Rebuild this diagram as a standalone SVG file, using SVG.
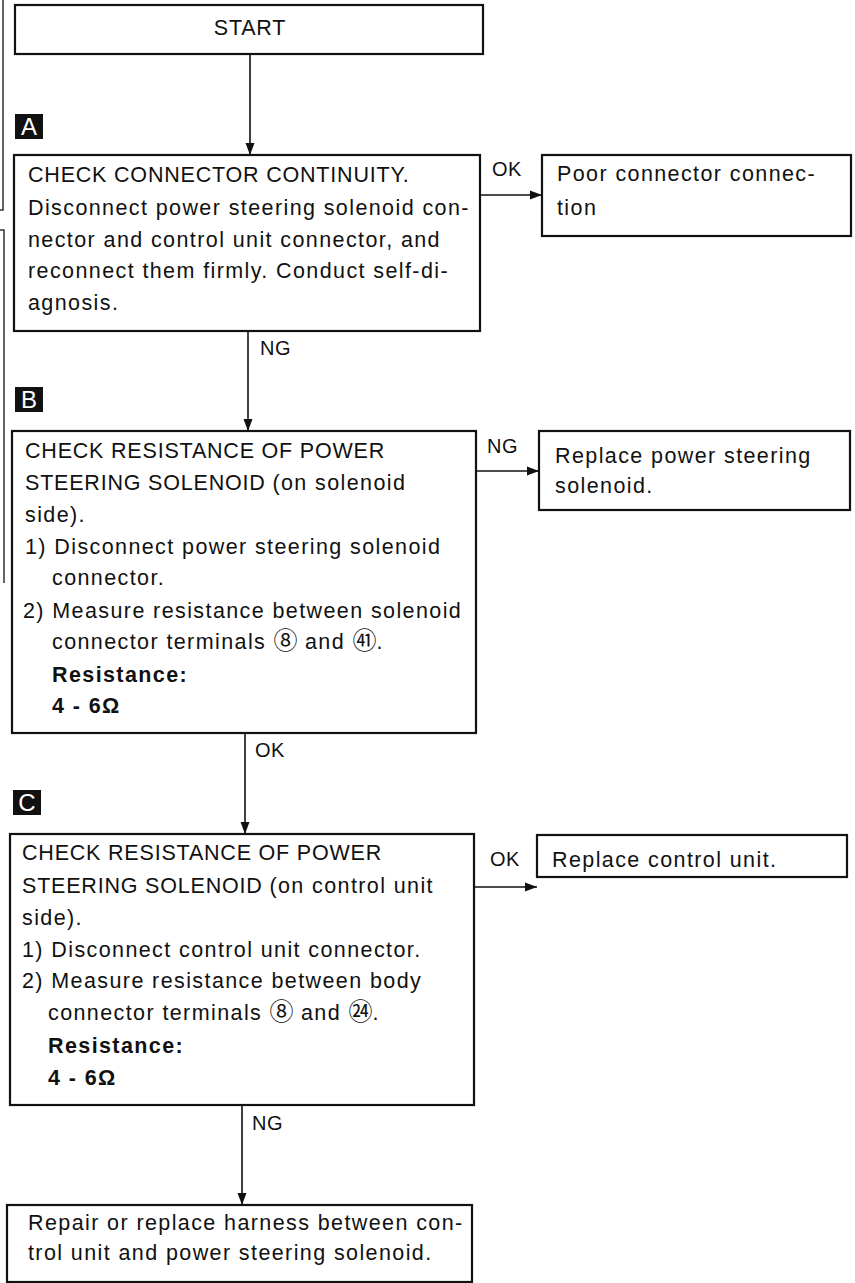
<svg xmlns="http://www.w3.org/2000/svg" width="855" height="1283" viewBox="0 0 855 1283">
<style>
text{font-family:"Liberation Sans",Arial,"Noto Sans CJK JP",sans-serif;font-size:21.5px;fill:#111;letter-spacing:1.4px}
.caps{letter-spacing:0.8px}
.b{font-weight:bold}
.lbl{font-size:20px;letter-spacing:0.5px}
.circ{font-size:24px;letter-spacing:0}
.box{fill:#fff;stroke:#111;stroke-width:2.2}
.con{fill:none;stroke:#111;stroke-width:1.6}
.tag{fill:#111}
.tagt{fill:#fff;font-size:24px;letter-spacing:0}
.art{fill:none;stroke:#333;stroke-width:1.5}
</style>
<defs>
<marker id="ah" markerWidth="12" markerHeight="10" refX="12" refY="5" orient="auto" markerUnits="userSpaceOnUse">
<path d="M0,0.5 L12,5 L0,9.5 Z" fill="#111"/>
</marker>
</defs>
<rect width="855" height="1283" fill="#fff"/>
<g id="artifacts">
<path class="art" d="M3,0 V210 H0"/>
<path class="art" d="M0,230 H4 V583"/>
</g>
<g id="connectors">
<line class="con" x1="250" y1="54" x2="250" y2="155" marker-end="url(#ah)"/>
<line class="con" x1="480" y1="195" x2="542" y2="195" marker-end="url(#ah)"/>
<text x="492" y="176" class="lbl">OK</text>
<line class="con" x1="248" y1="331" x2="248" y2="431" marker-end="url(#ah)"/>
<text x="260" y="355" class="lbl">NG</text>
<line class="con" x1="476" y1="471" x2="539" y2="471" marker-end="url(#ah)"/>
<text x="487" y="453" class="lbl">NG</text>
<line class="con" x1="245" y1="733" x2="245" y2="834" marker-end="url(#ah)"/>
<text x="255" y="757" class="lbl">OK</text>
<line class="con" x1="474" y1="887" x2="537" y2="887" marker-end="url(#ah)"/>
<text x="490" y="866" class="lbl">OK</text>
<line class="con" x1="242" y1="1105" x2="242" y2="1205" marker-end="url(#ah)"/>
<text x="252" y="1130" class="lbl">NG</text>
</g>
<g id="start">
<rect class="box" x="15" y="5" width="468" height="49"/>
<text x="250" y="35" text-anchor="middle" class="caps">START</text>
</g>
<g id="tagA">
<rect class="tag" x="15" y="114" width="28" height="25"/>
<text class="tagt" x="29" y="135" text-anchor="middle">A</text>
</g>
<g id="tagB">
<rect class="tag" x="15" y="387" width="28" height="25"/>
<text class="tagt" x="29" y="408" text-anchor="middle">B</text>
</g>
<g id="tagC">
<rect class="tag" x="13" y="790" width="28" height="25"/>
<text class="tagt" x="27" y="811" text-anchor="middle">C</text>
</g>
<g id="boxA">
<rect class="box" x="14" y="155" width="466" height="176"/>
<text x="28" y="182" class="caps">CHECK CONNECTOR CONTINUITY.</text>
<text x="28" y="215">Disconnect power steering solenoid con-</text>
<text x="28" y="247">nector and control unit connector, and</text>
<text x="28" y="278">reconnect them firmly. Conduct self-di-</text>
<text x="28" y="310">agnosis.</text>
</g>
<g id="poor">
<rect class="box" x="542" y="155" width="309" height="81"/>
<text x="557" y="181">Poor connector connec-</text>
<text x="557" y="215">tion</text>
</g>
<g id="boxB">
<rect class="box" x="12" y="431" width="464" height="302"/>
<text x="25" y="458" class="caps">CHECK RESISTANCE OF POWER</text>
<text x="25" y="490" class="caps">STEERING SOLENOID <tspan style="letter-spacing:1.4px">(on solenoid</tspan></text>
<text x="25" y="522">side).</text>
<text x="25" y="554">1) Disconnect power steering solenoid</text>
<text x="52" y="585">connector.</text>
<text x="23" y="618">2) Measure resistance between solenoid</text>
<text x="52" y="649">connector terminals <tspan class="circ">⑧</tspan> and <tspan class="circ">㊶</tspan>.</text>
<text x="52" y="682" class="b">Resistance:</text>
<text x="52" y="713" class="b">4 - 6Ω</text>
</g>
<g id="replaceSol">
<rect class="box" x="539" y="431" width="311" height="79"/>
<text x="555" y="463">Replace power steering</text>
<text x="555" y="493">solenoid.</text>
</g>
<g id="boxC">
<rect class="box" x="10" y="834" width="464" height="271"/>
<text x="22" y="860" class="caps">CHECK RESISTANCE OF POWER</text>
<text x="22" y="893" class="caps">STEERING SOLENOID <tspan style="letter-spacing:1.4px">(on control unit</tspan></text>
<text x="22" y="925">side).</text>
<text x="22" y="957">1) Disconnect control unit connector.</text>
<text x="22" y="988">2) Measure resistance between body</text>
<text x="48" y="1020">connector terminals <tspan class="circ">⑧</tspan> and <tspan class="circ">㉔</tspan>.</text>
<text x="48" y="1053" class="b">Resistance:</text>
<text x="48" y="1085" class="b">4 - 6Ω</text>
</g>
<g id="replaceCU">
<rect class="box" x="537" y="835" width="310" height="42"/>
<text x="552" y="867">Replace control unit.</text>
</g>
<g id="repair">
<rect class="box" x="7" y="1205" width="465" height="77"/>
<text x="28" y="1230">Repair or replace harness between con-</text>
<text x="28" y="1260">trol unit and power steering solenoid.</text>
</g>
</svg>
